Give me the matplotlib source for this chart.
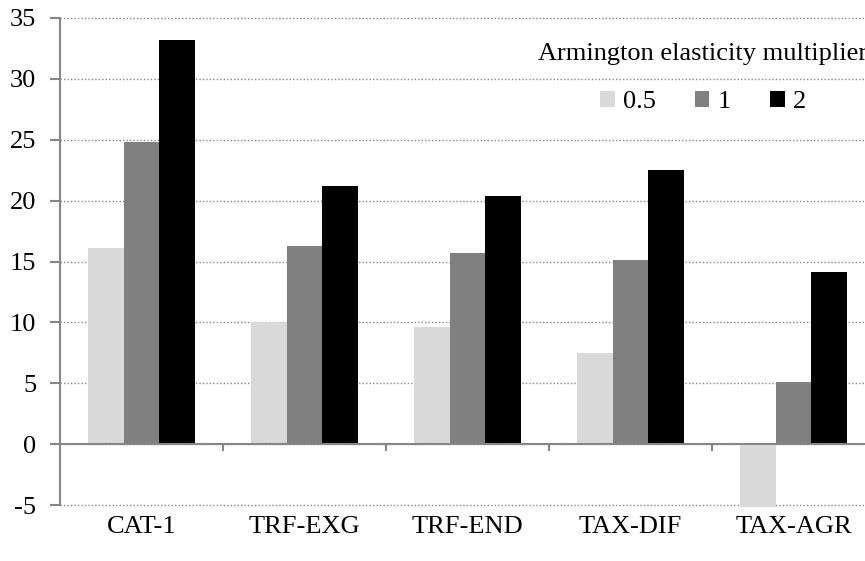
import numpy as np
import matplotlib
matplotlib.use("Agg")
import matplotlib.pyplot as plt

# -----------------------------
# Data
# -----------------------------
categories = ["CAT-1", "TRF-EXG", "TRF-END", "TAX-DIF", "TAX-AGR"]
series_names = ["0.5", "1", "2"]
vals_05 = [16.1, 10.0, 9.6, 7.5, -5.2]
vals_1 = [24.8, 16.3, 15.7, 15.1, 5.1]
vals_2 = [33.2, 21.2, 20.4, 22.5, 14.1]
yticks = [-5, 0, 5, 10, 15, 20, 25, 30, 35]

colors = ["#d9d9d9", "#808080", "#000000"]
axis_grey = "#868686"

plt.rcParams["font.family"] = ["Liberation Serif", "DejaVu Serif"]
plt.rcParams["font.size"] = 19

fig = plt.figure(figsize=(8.65, 5.61), dpi=100)
ax = fig.add_axes([60 / 865, 1 - 505 / 561, 815 / 865, 487 / 561])

x = np.arange(len(categories))
bw = 0.22
for i, (vals, name) in enumerate(zip([vals_05, vals_1, vals_2], series_names)):
    ax.bar(x + (i - 1) * bw, vals, width=bw, color=colors[i],
           label=name, zorder=3, clip_on=False)

ax.set_xlim(-0.5, len(categories) - 0.5)
ax.set_ylim(-5, 35)
ax.set_yticks(yticks)
ax.set_yticklabels([str(t) for t in yticks])

# gridlines
ax.yaxis.grid(True, linestyle=(0, (1, 1.5)), color=axis_grey, linewidth=1)
ax.set_axisbelow(True)
for gl in ax.get_ygridlines():
    gl.set_clip_on(False)

# spines
for s in ["top", "right", "bottom"]:
    ax.spines[s].set_visible(False)
ax.spines["left"].set_color(axis_grey)
ax.spines["left"].set_linewidth(1.5)
ax.tick_params(axis="y", colors=axis_grey, length=7, width=1.5,
               labelcolor="black", pad=10)

# category labels at the bottom
ax.set_xticks(x)
ax.set_xticklabels(categories)
ax.tick_params(axis="x", length=0, pad=8)

# zero line with category boundary ticks
ax.axhline(0, color=axis_grey, linewidth=1.5, zorder=4)
bounds = np.arange(len(categories) + 1) - 0.5
ax.vlines(bounds[1:], -0.55, 0, color=axis_grey, linewidth=1.5, zorder=4)

leg = fig.legend(loc="upper center", bbox_to_anchor=(703 / 865, 1 - 19 / 561),
                 ncol=3, frameon=False, title="Armington elasticity multiplier",
                 handlelength=0.55, handleheight=0.55, handletextpad=0.3,
                 columnspacing=1.5, fontsize=19, title_fontsize=19)
leg._legend_box.sep = 19

fig.savefig("out.png", dpi=100)
